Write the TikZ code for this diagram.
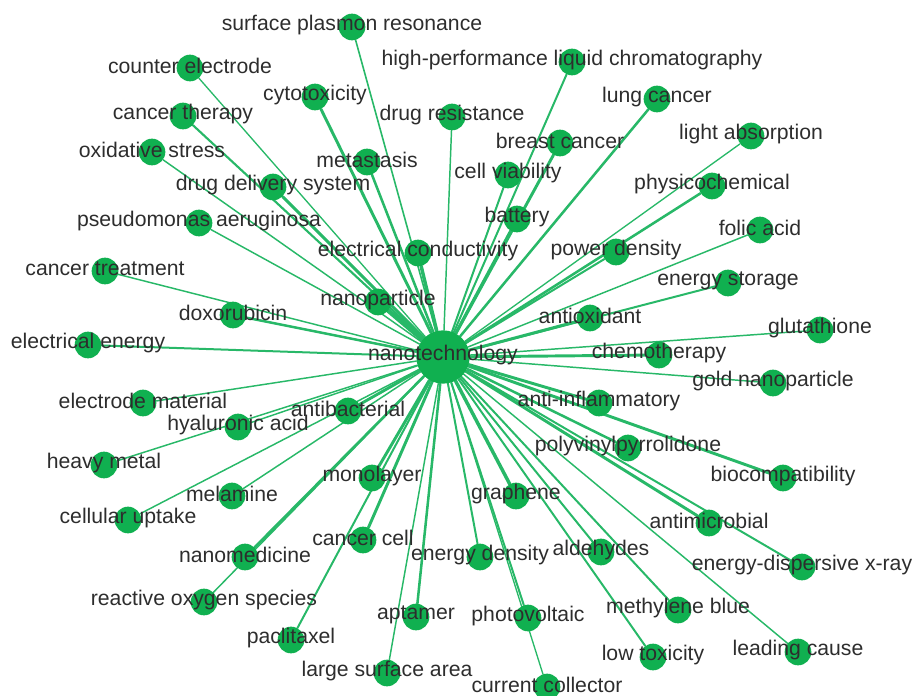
\documentclass[tikz,border=0pt]{standalone}
\usepackage{fontspec}
\setmainfont{Liberation Sans}
\usepackage{xcolor}
\usepackage{tikz}
\usetikzlibrary{
  backgrounds
}
\definecolor{nodegreen}{RGB}{16,176,80}
\definecolor{edgegreen}{RGB}{40,184,104}
\definecolor{labelgray}{RGB}{45,45,45}
\tikzset{
  term/.style={circle,fill=nodegreen,minimum size=20pt,inner sep=0pt},
  hub/.style={circle,fill=nodegreen,minimum size=40pt,inner sep=0pt},
  termlabel/.style={font=\fontsize{15.9}{18}\selectfont,text=labelgray,inner sep=0pt},
  link/.style={draw=edgegreen,line cap=round}
}
% x/y/id/label/edge width
\newcommand\termlist{
  352/27/spr/surface plasmon resonance/1.2,
  190/68/ce/counter electrode/1,
  315/97/ctx/cytotoxicity/2.2,
  183/116/cth/cancer therapy/1.6,
  152/152/os/oxidative stress/1.1,
  367/162/met/metastasis/1.9,
  273/187/dds/drug delivery system/2.2,
  199/223/pa/pseudomonas aeruginosa/1.1,
  452/117/dr/drug resistance/1.1,
  572/62/hplc/high-performance liquid chromatography/1.5,
  657/99/lc/lung cancer/1.9,
  751/136/la/light absorption/1,
  560/143/bc/breast cancer/2.2,
  508/175/cv/cell viability/1.5,
  712/186/pc/physicochemical/1.9,
  517/219/bat/battery/2.2,
  760/230/fa/folic acid/1.1,
  418/253/ec/electrical conductivity/2.6,
  105/271/ct/cancer treatment/1.1,
  378/302/np/nanoparticle/3.4,
  233/315/dox/doxorubicin/1.9,
  88/345/ee/electrical energy/1.5,
  143/403/em/electrode material/1.1,
  348/411/ab/antibacterial/2.2,
  238/427/ha/hyaluronic acid/1.1,
  104/465/hm/heavy metal/1.1,
  616/252/pd/power density/1.5,
  728/283/es/energy storage/1.5,
  590/318/ao/antioxidant/2.2,
  820/330/gsh/glutathione/1.1,
  659/355/chem/chemotherapy/2.2,
  773/383/gnp/gold nanoparticle/1.1,
  599/403/ai/anti-inflammatory/2.2,
  628/448/pvp/polyvinylpyrrolidone/1.9,
  783/478/bio/biocompatibility/2.2,
  709/523/am/antimicrobial/2.2,
  802/567/edx/energy-dispersive x-ray/1.5,
  372/478/ml/monolayer/2.2,
  232/496/mel/melamine/1.1,
  128/520/cu/cellular uptake/1.1,
  363/540/cc/cancer cell/2.2,
  245/557/nm/nanomedicine/1.9,
  204/602/ros/reactive oxygen species/1.1,
  416/617/apt/aptamer/1.9,
  291/640/ptx/paclitaxel/1.5,
  387/673/lsa/large surface area/1.1,
  516/496/gr/graphene/2.6,
  480/557/ed/energy density/1.5,
  601/552/ald/aldehydes/1.5,
  528/618/pv/photovoltaic/1.5,
  678/610/mb/methylene blue/1.5,
  653/657/lt/low toxicity/1.5,
  798/652/lcs/leading cause/1.1,
  547/687/cur/current collector/1%
}
\begin{document}
\begin{tikzpicture}[x=0.75pt,y=-0.75pt]
    \useasboundingbox (0,0) rectangle (914,696);
    \node[hub] (nano) at (443,357) {};
    % terms and their links to the hub
    \foreach \x/\y/\id/\txt/\w in \termlist {
        \node[term] (t\id) at (\x,\y) {};
        \begin{scope}[on background layer]
            \draw[link,line width=\w pt] (nano) -- (t\id);
        \end{scope}
    }
    % labels on top
    \node[termlabel] (lnano) at ([yshift=1.5pt]nano) {nanotechnology};
    \foreach \x/\y/\id/\txt/\w in \termlist
        \node[termlabel] (l\id) at ([yshift=1.5pt]t\id) {\txt};
\end{tikzpicture}
\end{document}
